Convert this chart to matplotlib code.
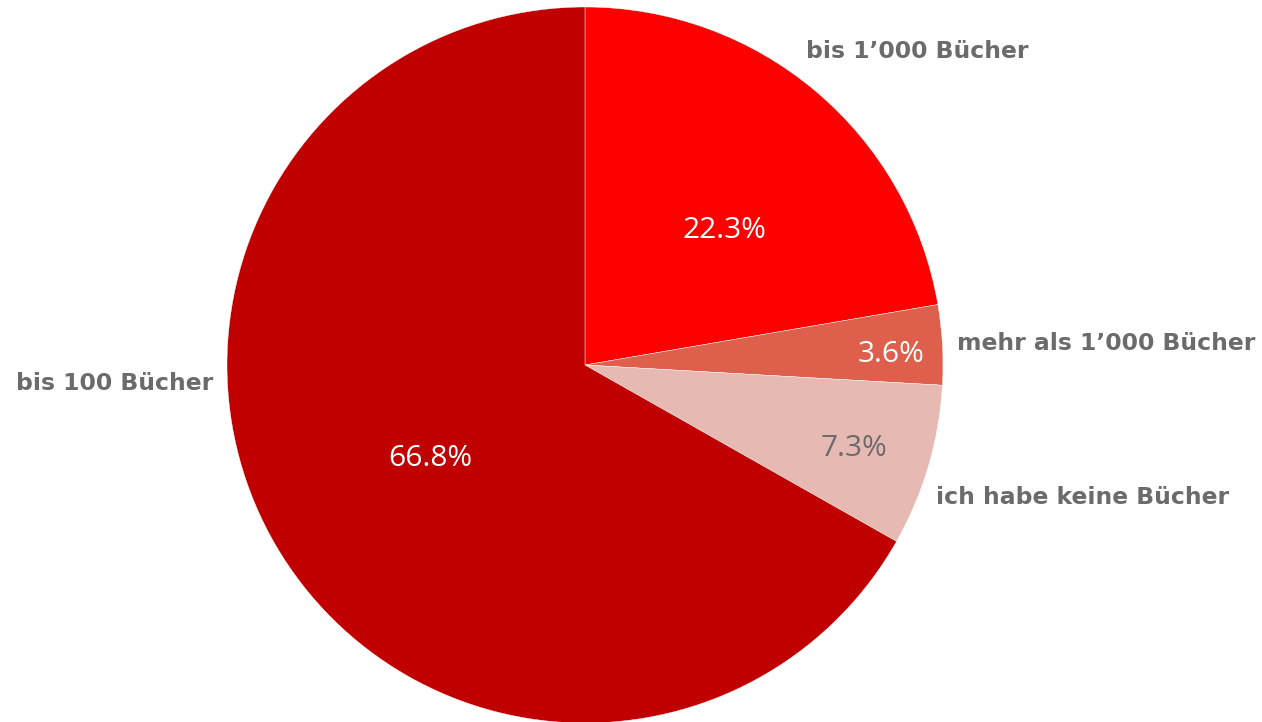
import matplotlib.pyplot as plt

# Daten
labels = ["bis 1\u2019000 B\u00fccher", "mehr als 1\u2019000 B\u00fccher",
          "ich habe keine B\u00fccher", "bis 100 B\u00fccher"]
values = [22.3, 3.6, 7.3, 66.8]
colors = ["#FF0000", "#DE604C", "#E6B9B3", "#C00000"]
pct_colors = ["white", "white", "#6B6B6B", "white"]

# Positionen (Pixel, Ursprung unten links)
W, H = 1262, 722
center = (585, H - 365)
radius = 358
label_pos = [(806, H - 52, "left"), (957, H - 343, "left"),
             (936, H - 497, "left"), (213, H - 384, "right")]
pct_pos = [(724, H - 230), (891, H - 355), (854, H - 448), (430, H - 458)]

fig = plt.figure(figsize=(W / 100, H / 100), dpi=100)
ax = fig.add_axes([0, 0, 1, 1])
ax.set_xlim(0, W)
ax.set_ylim(0, H)
ax.set_aspect("equal")
ax.axis("off")

wedges, texts, autotexts = ax.pie(
    values, colors=colors, startangle=90, counterclock=False,
    center=center, radius=radius, autopct="%1.1f%%",
    wedgeprops=dict(edgecolor="white", linewidth=0.3),
    textprops=dict(family="Open Sans", fontsize=21.5),
)
ax.set_xlim(0, W)
ax.set_ylim(0, H)

for t, c, (x, y) in zip(autotexts, pct_colors, pct_pos):
    t.set_color(c)
    t.set_position((x, y))
    t.set_ha("center")
    t.set_va("center")

for lab, (x, y, ha) in zip(labels, label_pos):
    ax.text(x, y, lab, ha=ha, va="center", fontsize=16.9, fontweight="bold",
            color="#6B6B6B", family="DejaVu Sans")

fig.savefig("out.png", dpi=100)
